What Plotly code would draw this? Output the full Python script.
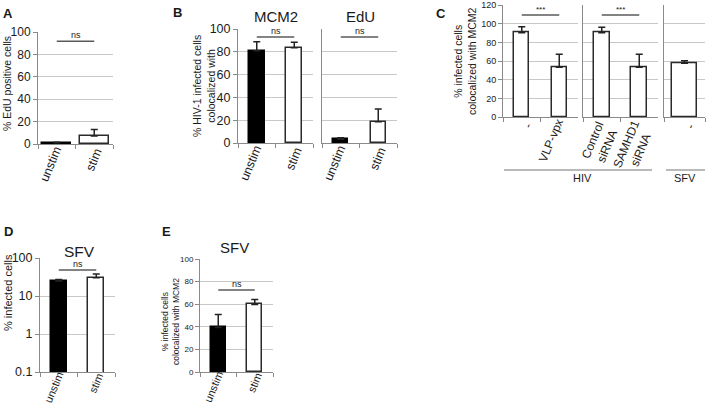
import math
import plotly.graph_objects as go

W, H = 709, 407

# ---------------- data ----------------
stim_cats = ["unstim", "stim"]
bar_fill = ["black", "white"]

a_vals = [1.2, 7.1]
a_err = [0.4, 5.9]

b_mcm2_vals = [81.0, 83.6]
b_mcm2_err = [7.9, 4.7]
b_edu_vals = [3.2, 18.7]
b_edu_err = [1.4, 11.1]

c_hiv_cats = ["-", "VLP-vpx"]
c_hiv_vals = [90.7, 53.6]
c_hiv_err = [6.3, 13.9]
c_sirna_cats = ["Control<br>siRNA", "SAMHD1<br>siRNA"]
c_sirna_vals = [90.7, 53.6]
c_sirna_err = [5.7, 13.9]
c_sfv_cats = ["-"]
c_sfv_vals = [57.9]
c_sfv_err = [2.8]

d_vals = [25.0, 30.0]
d_err = [2.2, 7.7]
d_tickvals = [0.1, 1, 10, 100]
d_ticktext = ["0.1", "1", "10", "100"]

e_vals = [39.4, 59.8]
e_err = [11.5, 4.4]

# significance annotations (label, y-value)
a_sig = ("ns", 91.7)
b_mcm2_sig = ("ns", 93)
b_edu_sig = ("ns", 93)
c_hiv_sig = ("***", 109.5)
c_sirna_sig = ("***", 109.5)
d_sig = ("ns", 48)
e_sig = ("ns", 72.5)

FONT = "Liberation Sans, Arial, sans-serif"
TXT = "#1a1a1a"
GRID = "#c8c8c8"
AXL = "#8a8a8a"
LABEL_ANGLE = -67.5

# approximate Arial advance widths (em) used to centre rotated labels
CW = {"u": .556, "n": .556, "s": .5, "t": .278, "i": .222, "m": .833,
      "-": .333, "V": .667, "L": .556, "P": .667, "v": .5, "p": .556,
      "x": .5, "C": .722, "o": .556, "r": .333, "l": .222, "R": .722,
      "N": .722, "A": .667, "S": .667, "M": .833, "H": .722, "D": .722,
      "1": .556}


def xd(a, b):
    return [a / W, b / W]


def yd(top, bottom):
    return [1 - bottom / H, 1 - top / H]


def px(x):
    return x / W


def py(y):
    return 1 - y / H


def sfx(n):
    return "" if n == 1 else str(n)


fig = go.Figure()


def bars(x, y, err, fills, n, width):
    lines = ["black" if f == "black" else "#2a2a2a" for f in fills]
    fig.add_trace(go.Bar(
        x=x, y=y, width=width,
        marker=dict(color=fills, line=dict(color=lines, width=1.5)),
        error_y=dict(type="data", array=err, arrayminus=[0] * len(y),
                     symmetric=False, color="#222", thickness=1.5, width=3.5),
        xaxis="x" + sfx(n), yaxis="y" + sfx(n),
        showlegend=False, hoverinfo="x+y",
    ))


def sigline(cats, sig, n, log=False):
    label, yv = sig
    fig.add_trace(go.Scatter(
        x=cats, y=[yv, yv], mode="lines",
        line=dict(color="#5a5a5a", width=1.5),
        xaxis="x" + sfx(n), yaxis="y" + sfx(n),
        showlegend=False, hoverinfo="skip",
    ))
    fig.add_annotation(
        x=0.5, y=math.log10(yv) if log else yv,
        xref="x" + sfx(n), yref="y" + sfx(n),
        text=label, showarrow=False, yanchor="bottom", yshift=-1,
        font=dict(size=9 if label == "ns" else 8, color=TXT, family=FONT),
    )


def xlabels(cats, n, bottom, fs, gap=3):
    # diagonal category labels whose upper end sits at the category tick
    for c in cats:
        lines = c.split("<br>")
        L = max(sum(CW.get(ch, .55) for ch in ln) for ln in lines) * fs
        h = fs * (1 + 1.2 * (len(lines) - 1))
        k = math.sqrt(0.5) / 2
        dx = 3 - k * L + k * h
        dy = gap + k * L + k * h
        fig.add_annotation(
            x=c, xref="x" + sfx(n), y=py(bottom), yref="paper",
            text=c, showarrow=False, textangle=LABEL_ANGLE,
            xanchor="center", yanchor="middle", xshift=dx, yshift=-dy,
            font=dict(size=fs, color=TXT, family=FONT),
        )


bars(stim_cats, a_vals, a_err, bar_fill, 1, 0.77)
bars(stim_cats, b_mcm2_vals, b_mcm2_err, bar_fill, 2, 0.43)
bars(stim_cats, b_edu_vals, b_edu_err, bar_fill, 3, 0.40)
bars(c_hiv_cats, c_hiv_vals, c_hiv_err, ["white"] * 2, 4, 0.41)
bars(c_sirna_cats, c_sirna_vals, c_sirna_err, ["white"] * 2, 5, 0.42)
bars(c_sfv_cats, c_sfv_vals, c_sfv_err, ["white"], 6, 0.63)
bars(stim_cats, d_vals, d_err, bar_fill, 7, 0.42)
bars(stim_cats, e_vals, e_err, bar_fill, 8, 0.41)

sigline(stim_cats, a_sig, 1)
sigline(stim_cats, b_mcm2_sig, 2)
sigline(stim_cats, b_edu_sig, 3)
sigline(c_hiv_cats, c_hiv_sig, 4)
sigline(c_sirna_cats, c_sirna_sig, 5)
sigline(stim_cats, d_sig, 7, log=True)
sigline(stim_cats, e_sig, 8)


def xaxis(dom, ncat, anchor):
    return dict(domain=dom, anchor=anchor, type="category",
                range=[-0.5, ncat - 0.5], showline=True, linecolor=AXL,
                linewidth=1, ticks="outside", tickson="boundaries",
                ticklen=4, tickcolor=AXL, showticklabels=False,
                showgrid=False, automargin=False, fixedrange=True,
                zeroline=False)


def yaxis(dom, anchor, rng, dtick, fs, labels=True):
    return dict(domain=dom, anchor=anchor, range=rng, dtick=dtick,
                showline=True, linecolor=AXL, linewidth=1,
                ticks="outside" if labels else "", ticklen=4, tickcolor=AXL,
                showticklabels=labels, showgrid=True, gridcolor=GRID,
                gridwidth=1, zeroline=False,
                tickfont=dict(size=fs, color=TXT, family=FONT),
                automargin=False, fixedrange=True)


lay = {}
lay["xaxis"] = xaxis(xd(38, 113), 2, "y")
lay["yaxis"] = yaxis(yd(32, 144), "x", [0, 100], 20, 12)
lay["xaxis2"] = xaxis(xd(238, 313), 2, "y2")
lay["yaxis2"] = yaxis(yd(29, 143), "x2", [0, 100], 20, 12.5)
lay["xaxis3"] = xaxis(xd(322, 397), 2, "y3")
lay["yaxis3"] = yaxis(yd(29, 143), "x3", [0, 100], 20, 12, labels=False)
lay["xaxis4"] = xaxis(xd(503, 578), 2, "y4")
lay["yaxis4"] = yaxis(yd(5.3, 117.3), "x4", [0, 120], 20, 9)
lay["xaxis5"] = xaxis(xd(583, 658), 2, "y5")
lay["yaxis5"] = yaxis(yd(5.3, 117.3), "x5", [0, 120], 20, 9, labels=False)
lay["xaxis6"] = xaxis(xd(664, 705), 1, "y6")
lay["yaxis6"] = yaxis(yd(5.3, 117.3), "x6", [0, 120], 20, 9, labels=False)
lay["xaxis7"] = xaxis(xd(40, 115), 2, "y7")
y7 = yaxis(yd(258, 372), "x7", [-1, 2], None, 12.5)
y7.update(type="log", tickvals=d_tickvals, ticktext=d_ticktext)
y7.pop("dtick")
lay["yaxis7"] = y7
lay["xaxis8"] = xaxis(xd(200, 273), 2, "y8")
lay["yaxis8"] = yaxis(yd(259, 372), "x8", [0, 100], 20, 8)

fig.update_layout(**lay)

xlabels(stim_cats, 1, 144, 12.5)
xlabels(stim_cats, 2, 143, 12.5)
xlabels(stim_cats, 3, 143, 12.5)
xlabels(c_hiv_cats, 4, 117.3, 12)
xlabels(c_sirna_cats, 5, 117.3, 12)
xlabels(c_sfv_cats, 6, 117.3, 12)
xlabels(stim_cats, 7, 372, 11, gap=0)
xlabels(stim_cats, 8, 372, 11, gap=0)

# panel letters and titles
texts = [
    ("A", 8, 14, 13, True), ("B", 177, 13, 13, True), ("C", 441, 14, 13, True),
    ("D", 8, 231, 13, True), ("E", 166, 231, 13, True),
    ("MCM2", 276, 17, 15, False), ("EdU", 360, 17, 15, False),
    ("SFV", 79, 251, 15.5, False), ("SFV", 234, 247, 15, False),
    ("HIV", 582, 178, 11, False), ("SFV", 685, 178, 11, False),
]
for t, x, y, s, b in texts:
    fig.add_annotation(x=px(x), y=py(y), xref="paper", yref="paper",
                       text="<b>%s</b>" % t if b else t, showarrow=False,
                       xanchor="center", yanchor="middle",
                       font=dict(size=s, color=TXT, family=FONT))

# y-axis titles
ytitles = [
    ("% EdU positive cells", 7, 84, 10.5),
    ("% HIV-1 infected cells<br>colocalized with", 204, 86, 10.5),
    ("% infected cells<br>colocalized with MCM2", 465, 61, 10.5),
    ("% infected cells", 8, 293, 11),
    ("% infected cells<br>colocalized with MCM2", 170, 322, 8.5),
]
for t, x, y, s in ytitles:
    fig.add_annotation(x=px(x), y=py(y), xref="paper", yref="paper",
                       text=t, showarrow=False, textangle=-90,
                       xanchor="center", yanchor="middle",
                       font=dict(size=s, color=TXT, family=FONT))

# group lines below panel C
for x0, x1 in [(504, 652), (666, 705)]:
    fig.add_shape(type="line", xref="paper", yref="paper",
                  x0=px(x0), x1=px(x1), y0=py(170), y1=py(170),
                  line=dict(color="#777", width=1.2))

fig.update_layout(width=W, height=H, autosize=False,
                  margin=dict(l=0, r=0, t=0, b=0),
                  paper_bgcolor="white", plot_bgcolor="white",
                  font=dict(family=FONT, color=TXT), showlegend=False,
                  bargap=0)

fig.write_html("out.html", config={"displayModeBar": False},
               post_script="document.body.style.margin='0';"
                           "document.body.style.overflow='hidden';")
